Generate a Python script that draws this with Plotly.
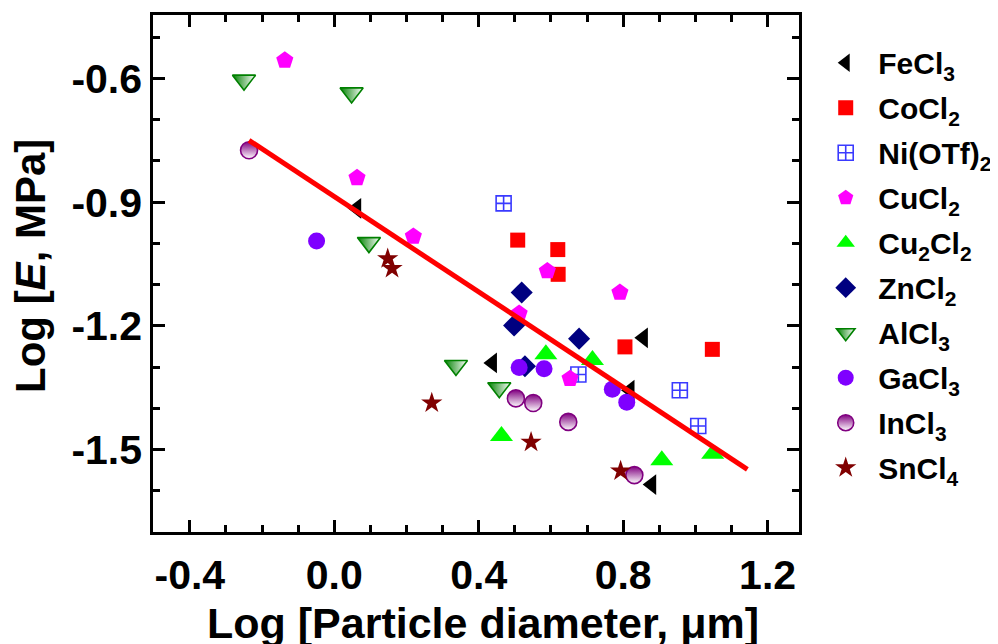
import plotly.graph_objects as go

# ---- data ----
fecl3_x = [0.062, 0.438, 0.856, 0.819, 0.879]
fecl3_y = [-0.915, -1.290, -1.229, -1.356, -1.585]

cocl2_x = [0.508, 0.619, 0.620, 0.805, 1.047]
cocl2_y = [-0.992, -1.015, -1.075, -1.251, -1.257]

niotf2_x = [0.469, 0.676, 0.957, 1.008]
niotf2_y = [-0.903, -1.318, -1.356, -1.443]

cucl2_x = [-0.137, 0.063, 0.219, 0.590, 0.791, 0.512, 0.653]
cucl2_y = [-0.556, -0.841, -0.983, -1.067, -1.119, -1.170, -1.328]

cu2cl2_x = [0.586, 0.715, 0.463, 0.907, 1.048]
cu2cl2_y = [-1.269, -1.283, -1.467, -1.526, -1.510]

zncl2_x = [0.519, 0.498, 0.678, 0.528]
zncl2_y = [-1.119, -1.199, -1.231, -1.298]

alcl3_x = [-0.250, 0.048, 0.096, 0.337, 0.457]
alcl3_y = [-0.604, -0.635, -0.998, -1.296, -1.350]

gacl3_x = [-0.049, 0.512, 0.581, 0.770, 0.810]
gacl3_y = [-0.994, -1.301, -1.304, -1.354, -1.385]

incl3_x = [-0.236, 0.503, 0.551, 0.648, 0.831]
incl3_y = [-0.774, -1.376, -1.387, -1.433, -1.562]

sncl4_x = [0.148, 0.160, 0.270, 0.545, 0.793]
sncl4_y = [-1.037, -1.061, -1.387, -1.482, -1.552]

fit_x = [-0.236, 1.144]
fit_y = [-0.750, -1.548]

x_tickvals = [-0.4, 0.0, 0.4, 0.8, 1.2]
x_ticktext = ["-0.4", "0.0", "0.4", "0.8", "1.2"]
y_tickvals = [-0.6, -0.9, -1.2, -1.5]
y_ticktext = ["-0.6", "-0.9", "-1.2", "-1.5"]

FONT = "Arial, Liberation Sans, sans-serif"

series = [
    ("FeCl<sub>3</sub>", fecl3_x, fecl3_y,
     dict(symbol="triangle-left", color="black", size=18)),
    ("CoCl<sub>2</sub>", cocl2_x, cocl2_y,
     dict(symbol="square", color="#ff0000", size=15)),
    ("Ni(OTf)<sub>2</sub>", niotf2_x, niotf2_y,
     dict(symbol="square-cross-open", color="#3a3aff", size=15, line=dict(width=1.6))),
    ("CuCl<sub>2</sub>", cucl2_x, cucl2_y,
     dict(symbol="pentagon", color="#ff00ff", size=18)),
    ("Cu<sub>2</sub>Cl<sub>2</sub>", cu2cl2_x, cu2cl2_y,
     dict(symbol="triangle-up", color="#00ff00", size=20)),
    ("ZnCl<sub>2</sub>", zncl2_x, zncl2_y,
     dict(symbol="diamond", color="#000080", size=17)),
    ("AlCl<sub>3</sub>", alcl3_x, alcl3_y,
     dict(symbol="triangle-down", color="#008000", size=20,
          gradient=dict(type="horizontal", color="white"),
          line=dict(color="#008000", width=1.6))),
    ("GaCl<sub>3</sub>", gacl3_x, gacl3_y,
     dict(symbol="circle", color="#7f00ff", size=17)),
    ("InCl<sub>3</sub>", incl3_x, incl3_y,
     dict(symbol="circle", color="#800080", size=17,
          gradient=dict(type="vertical", color="white"),
          line=dict(color="#800080", width=1.6))),
    ("SnCl<sub>4</sub>", sncl4_x, sncl4_y,
     dict(symbol="star", color="#800000", size=16)),
]

fig = go.Figure()
for name, xs, ys, mk in series:
    fig.add_trace(go.Scatter(x=xs, y=ys, mode="markers", name=name, marker=mk,
                             legendgroup=name, cliponaxis=False))

fig.add_trace(go.Scatter(x=fit_x, y=fit_y, mode="lines", showlegend=False,
                         line=dict(color="#ff0000", width=5)))

axis_common = dict(
    showgrid=False, zeroline=False, automargin=False,
    showline=True, linecolor="black", linewidth=2.5, mirror="allticks",
    ticks="inside", ticklen=12, tickwidth=2.5, tickcolor="black",
    tickfont=dict(family=FONT, size=41, color="black", weight="bold"),
)

title_font = dict(family=FONT, size=42, color="black", weight="bold")

# the page body adds an 8px margin, so the figure is 8px smaller and shifted
fig.update_layout(
    width=990, height=636,
    paper_bgcolor="white", plot_bgcolor="white",
    margin=dict(l=145, r=199, t=7, b=112, autoexpand=False),
    xaxis=dict(range=[-0.502, 1.287], tickvals=x_tickvals, ticktext=x_ticktext,
               minor=dict(ticks="inside", ticklen=7, tickwidth=2.5, tickcolor="black", dtick=0.1, tick0=0),
               ticklabelstandoff=5,
               **axis_common),
    yaxis=dict(range=[-1.70, -0.446], tickvals=y_tickvals, ticktext=y_ticktext,
               minor=dict(ticks="inside", ticklen=7, tickwidth=2.5, tickcolor="black", dtick=0.1, tick0=0),
               ticklabelstandoff=0,
               **axis_common),
    annotations=[
        dict(text="Log [<i>E</i>, MPa]", textangle=-90, showarrow=False,
             xref="paper", yref="paper", x=-0.19, y=0.515,
             xanchor="center", yanchor="middle", font=title_font),
        dict(text="Log [Particle diameter, μm]", showarrow=False,
             xref="paper", yref="paper", x=0.511, y=-0.176,
             xanchor="center", yanchor="middle",
             font=dict(family=FONT, size=43, color="black", weight="bold")),
    ],
    legend=dict(x=1.022, xanchor="left", y=0.958, yanchor="top",
                font=dict(family=FONT, size=30, color="black", weight="bold"),
                bgcolor="rgba(0,0,0,0)", borderwidth=0, itemwidth=55,
                tracegroupgap=3),
    showlegend=True,
)

fig.write_html("out.html")
